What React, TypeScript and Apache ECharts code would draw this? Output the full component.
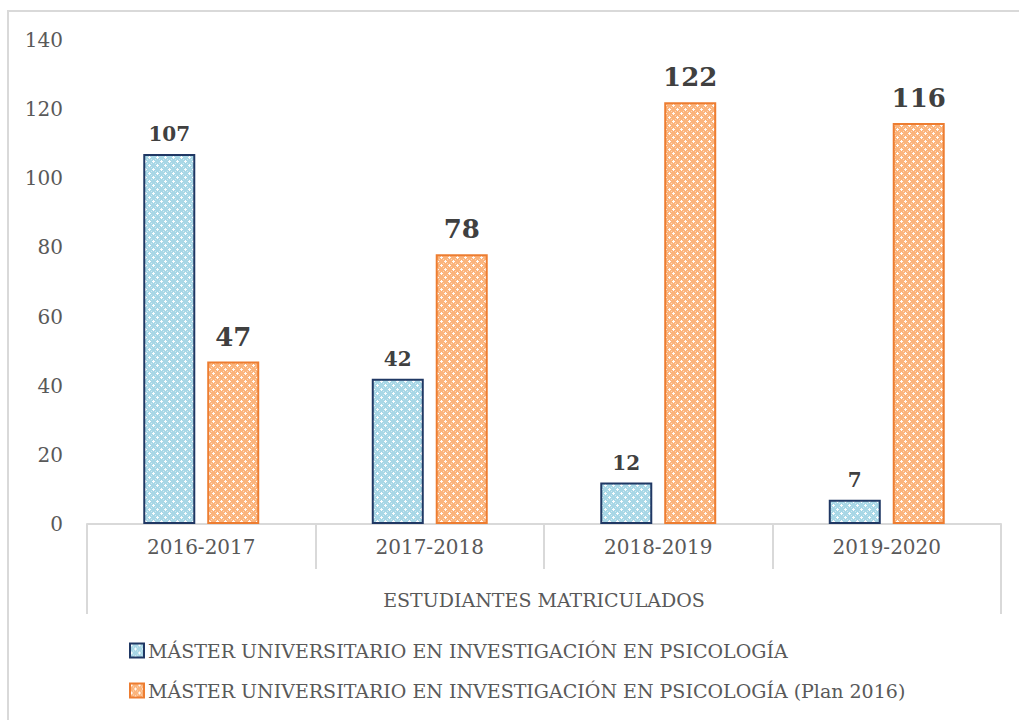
import React, { useEffect, useRef } from "react";
import * as echarts from "echarts";

const categories = ["2016-2017", "2017-2018", "2018-2019", "2019-2020"];
const seriesNames = [
  "MÁSTER UNIVERSITARIO EN INVESTIGACIÓN EN PSICOLOGÍA",
  "MÁSTER UNIVERSITARIO EN INVESTIGACIÓN EN PSICOLOGÍA (Plan 2016)",
];
const masterValues = [107, 42, 12, 7];
const plan2016Values = [47, 78, 122, 116];
const axisTitle = "ESTUDIANTES MATRICULADOS";

const FONT = "'DejaVu Serif', serif";

function makePattern(base: string) {
  const c = document.createElement("canvas");
  c.width = 8;
  c.height = 8;
  const ctx = c.getContext("2d")!;
  ctx.fillStyle = base;
  ctx.fillRect(0, 0, 8, 8);
  ctx.fillStyle = "rgba(255,255,255,0.95)";
  const pts = [
    [1, 0], [0, 1], [1, 1], [2, 1], [1, 2],
    [5, 4], [4, 5], [5, 5], [6, 5], [5, 6],
  ];
  pts.forEach(([x, y]) => ctx.fillRect(x, y, 1, 1));
  ctx.fillStyle = "rgba(255,255,255,0.45)";
  const pts2 = [[3, 3], [7, 7], [3, 7], [7, 3]];
  pts2.forEach(([x, y]) => ctx.fillRect(x, y, 1, 1));
  return c;
}

export default function App() {
  const ref = useRef<HTMLDivElement>(null);
  useEffect(() => {
    if (!ref.current) return;
    const chart = echarts.init(ref.current, null, { renderer: "svg" });
    const gridLeft = 87;
    const gridRight = 18;
    const gridTop = 40;
    const gridBottom = 196;
    const W = 1019;
    const H = 720;
    const axisY = H - gridBottom;
    const lineColor = "#d9d9d9";
    chart.setOption({
      animation: false,
      backgroundColor: "#ffffff",
      textStyle: { fontFamily: FONT },
      grid: { left: gridLeft, right: gridRight, top: gridTop, bottom: gridBottom },
      xAxis: {
        type: "category",
        data: categories,
        axisLine: { show: true, lineStyle: { color: lineColor, width: 2 } },
        axisTick: { show: true, length: 45, lineStyle: { color: lineColor, width: 2 } },
        axisLabel: { color: "#595959", fontSize: 20, fontFamily: FONT, margin: 13 },
        name: axisTitle,
        nameLocation: "middle",
        nameGap: 66,
        nameTextStyle: { color: "#595959", fontSize: 19, fontFamily: FONT },
      },
      yAxis: {
        type: "value",
        min: 0,
        max: 140,
        interval: 20,
        axisLine: { show: false },
        axisTick: { show: false },
        splitLine: { show: false },
        axisLabel: { color: "#595959", fontSize: 20, fontFamily: FONT, margin: 24 },
      },
      legend: {
        orient: "vertical",
        left: 124,
        top: 636,
        itemWidth: 14,
        itemHeight: 14,
        itemGap: 21,
        icon: "rect",
        textStyle: { color: "#595959", fontSize: 19, fontFamily: FONT, padding: [0, 0, 0, -1] },
        data: seriesNames,
      },
      graphic: [
        {
          type: "rect",
          shape: { x: 8, y: 11, width: 1100, height: 800 },
          style: { fill: "none", stroke: lineColor, lineWidth: 2 },
          silent: true,
        },
        {
          type: "line",
          shape: { x1: gridLeft, y1: axisY, x2: gridLeft, y2: 614 },
          style: { stroke: lineColor, lineWidth: 2 },
          silent: true,
        },
        {
          type: "line",
          shape: { x1: W - gridRight, y1: axisY, x2: W - gridRight, y2: 614 },
          style: { stroke: lineColor, lineWidth: 2 },
          silent: true,
        },
      ],
      series: [
        {
          name: seriesNames[0],
          type: "bar",
          data: masterValues,
          barWidth: 52,
          barGap: "23%",
          itemStyle: {
            color: { image: makePattern("#a8d7e6"), repeat: "repeat" } as any,
            borderColor: "#203864",
            borderWidth: 2,
          },
          label: {
            show: true,
            position: "top",
            distance: 10,
            color: "#404040",
            fontWeight: "bold",
            fontSize: 20,
            fontFamily: FONT,
          },
        },
        {
          name: seriesNames[1],
          type: "bar",
          data: plan2016Values,
          barWidth: 52,
          itemStyle: {
            color: { image: makePattern("#fbb47c"), repeat: "repeat" } as any,
            borderColor: "#ed7d31",
            borderWidth: 2,
          },
          label: {
            show: true,
            position: "top",
            distance: 12,
            color: "#404040",
            fontWeight: "bold",
            fontSize: 26,
            fontFamily: FONT,
          },
        },
      ],
    });
    return () => chart.dispose();
  }, []);
  return (
    <div
      ref={ref}
      style={{ position: "fixed", left: 0, top: 0, width: 1019, height: 720, background: "#fff" }}
    />
  );
}
